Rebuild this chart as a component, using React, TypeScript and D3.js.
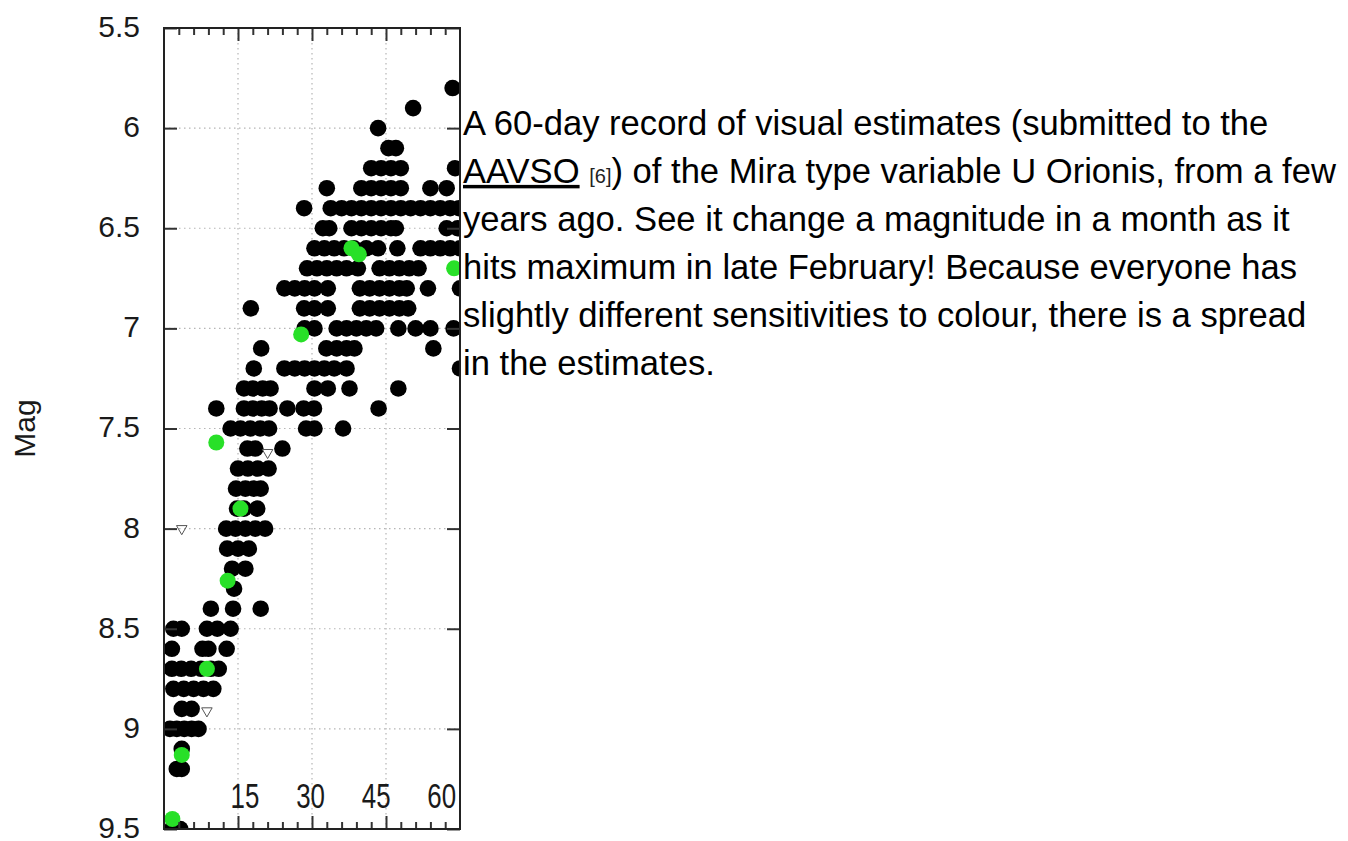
import * as d3 from 'd3';
import { useEffect, useRef } from 'react';

// axis ticks
const magTicks = [5.5, 6, 6.5, 7, 7.5, 8, 8.5, 9, 9.5];
const dayMajorTicks = [15, 30, 45];
const dayMinorTicks = [3, 6, 9, 12, 18, 21, 24, 27, 33, 36, 39, 42, 48, 51, 54, 57];
const dayLabels = [15, 30, 45, 60];

// visual estimates, grouped by magnitude: [mag, days]
const blackRows: [number, number[]][] = [
  [5.8, [58.5]],
  [5.9, [50.5]],
  [6.0, [43.4]],
  [6.1, [45.5, 47]],
  [6.2, [42, 44, 46, 48, 59]],
  [6.3, [33, 40, 42, 44, 46, 48, 54, 57.3]],
  [6.4, [28.4, 33.8, 36, 38, 40, 42, 44, 46, 48, 50, 52, 54, 56, 58, 59.8]],
  [6.5, [32.2, 33.5, 38, 40, 42, 44, 46, 47, 57.3, 59.5]],
  [6.6, [30.5, 32.5, 34.5, 36.5, 38.5, 41, 43.4, 47.3, 52, 54, 56, 58, 60]],
  [6.7, [29, 31, 33, 35, 37, 39.3, 43.7, 45.7, 47.7, 49.7, 51.6]],
  [6.8, [24.4, 26.5, 28.5, 30.5, 33.2, 39.7, 41.7, 43.7, 45.7, 47.7, 49.2, 53.5, 60]],
  [6.9, [17.6, 28.4, 30.5, 33.2, 39.7, 41.7, 43.7, 45.7, 47.7, 49.5]],
  [7.0, [28.5, 30.5, 35, 37, 39, 41, 43, 47.5, 51, 54, 58.7]],
  [7.1, [19.7, 32.9, 35, 37, 38.6, 54.6]],
  [7.2, [18.2, 24.4, 26.5, 28.5, 30.5, 32.5, 34.5, 37, 60]],
  [7.3, [16.2, 18, 20, 21.6, 30.5, 33.2, 37.6, 47.5]],
  [7.4, [10.6, 16.2, 18, 19.8, 21.4, 25, 28.3, 30.4, 43.5]],
  [7.5, [13.5, 15.5, 17.5, 19.5, 21.3, 28.8, 30.5, 36.3]],
  [7.6, [16.9, 18.5, 24]],
  [7.7, [15, 17, 19, 21.2]],
  [7.8, [14.6, 16.5, 18.2, 19.6]],
  [7.9, [14.8, 16.2, 18.9]],
  [8.0, [12.6, 14.5, 16.5, 18.5, 20.5]],
  [8.1, [12.8, 15, 17.2]],
  [8.2, [13.8, 16.5]],
  [8.3, [14.2]],
  [8.4, [9.5, 14, 19.6]],
  [8.5, [1.9, 3.6, 8.7, 10.8, 13.5]],
  [8.6, [1.6, 7.8, 9, 12.7]],
  [8.7, [1.6, 3.5, 5.5, 7.5, 9.5, 11.1]],
  [8.8, [1.9, 4, 6, 8, 10]],
  [8.9, [3.6, 5.6]],
  [9.0, [1.2, 2.6, 4.1, 5.6, 7]],
  [9.1, [3.6]],
  [9.2, [2.6, 3.6]],
  [9.5, [1.6, 3.3]],
];

// green (V-band) estimates: [day, mag]
const greenObs: [number, number][] = [
  [38, 6.6], [39.5, 6.63], [58.8, 6.7], [27.8, 7.03], [10.6, 7.57],
  [15.5, 7.9], [12.9, 8.26], [8.7, 8.7], [3.6, 9.13], [1.7, 9.45],
];

// "fainter than" estimates: [day, mag]
const fainterObs: [number, number][] = [[21, 7.62], [3.6, 8.0], [8.7, 8.91]];

type Part = { t: string; link?: boolean; small?: boolean };
const captionLines: Part[][] = [
  [{ t: 'A 60-day record of visual estimates (submitted to the' }],
  [
    { t: 'AAVSO', link: true },
    { t: ' ' },
    { t: '[6]', small: true },
    { t: ') of the Mira type variable U Orionis, from a few' },
  ],
  [{ t: 'years ago. See it change a magnitude in a month as it' }],
  [{ t: 'hits maximum in late February! Because everyone has' }],
  [{ t: 'slightly different sensitivities to colour, there is a spread' }],
  [{ t: 'in the estimates.' }],
];

const FONT = '"Liberation Sans", Arial, Helvetica, sans-serif';

function App() {
  const chartRef = useRef<SVGSVGElement>(null);

  useEffect(() => {
    const svg = d3.select(chartRef.current);
    svg.selectAll('*').remove();

    const x = d3.scaleLinear().domain([0, 60]).range([164, 460]);
    const y = d3.scaleLinear().domain([5.5, 9.5]).range([28, 829]);
    const [x0, x1] = x.range();
    const [y0, y1] = y.range();

    // dotted grid
    const grid = svg.append('g').attr('stroke', '#b5b5b5').attr('stroke-width', 1.2).attr('stroke-dasharray', '1.5,3.5');
    grid
      .selectAll('.hgrid')
      .data(magTicks.slice(1, -1))
      .join('line')
      .attr('x1', x0)
      .attr('x2', x1)
      .attr('y1', (d) => y(d))
      .attr('y2', (d) => y(d));
    grid
      .selectAll('.vgrid')
      .data(dayMajorTicks)
      .join('line')
      .attr('x1', (d) => x(d))
      .attr('x2', (d) => x(d))
      .attr('y1', y0)
      .attr('y2', y1);

    svg
      .append('clipPath')
      .attr('id', 'plot-clip')
      .append('rect')
      .attr('x', x0)
      .attr('y', y0 - 10)
      .attr('width', x1 - x0)
      .attr('height', y1 - y0 + 10);

    const marks = svg.append('g').attr('clip-path', 'url(#plot-clip)');
    const blackPts = blackRows.flatMap(([mag, days]) => days.map((d) => [d, mag] as [number, number]));

    marks
      .selectAll('.obs')
      .data(blackPts)
      .join('circle')
      .attr('cx', (d) => x(d[0]))
      .attr('cy', (d) => y(d[1]))
      .attr('r', 8.3)
      .attr('fill', '#000');

    const tri = d3.symbol(d3.symbolTriangle, 48);
    marks
      .selectAll('.fainter')
      .data(fainterObs)
      .join('path')
      .attr('d', tri)
      .attr('transform', (d) => `translate(${x(d[0])},${y(d[1])}) rotate(180)`)
      .attr('fill', 'none')
      .attr('stroke', '#555')
      .attr('stroke-width', 1);

    marks
      .selectAll('.green')
      .data(greenObs)
      .join('circle')
      .attr('cx', (d) => x(d[0]))
      .attr('cy', (d) => y(d[1]))
      .attr('r', 8)
      .attr('fill', '#28e028');

    const styleAxis = (g: d3.Selection<SVGGElement, unknown, null, undefined>) => {
      g.select('.domain').remove();
      g.selectAll('.tick line').attr('stroke', '#333').attr('stroke-width', 2);
      g.selectAll('.tick text')
        .attr('fill', '#1a1a1a')
        .attr('dy', '0.28em')
        .style('font-family', FONT)
        .style('font-size', '30px');
    };

    // left and right magnitude axes
    svg
      .append('g')
      .attr('transform', `translate(${x0},0)`)
      .call(d3.axisLeft(y).tickValues(magTicks).tickSize(-13).tickPadding(24).tickFormat((d) => String(d)))
      .call(styleAxis);
    svg
      .append('g')
      .attr('transform', `translate(${x1},0)`)
      .call(d3.axisRight(y).tickValues(magTicks).tickSize(-13).tickFormat(() => ''))
      .call(styleAxis);

    // top and bottom day axes (major + minor)
    [
      { axis: d3.axisTop(x), pos: y0 },
      { axis: d3.axisBottom(x), pos: y1 },
    ].forEach(({ axis, pos }) => {
      svg
        .append('g')
        .attr('transform', `translate(0,${pos})`)
        .call(axis.tickValues(dayMajorTicks).tickSize(-13).tickFormat(() => ''))
        .call(styleAxis);
      svg
        .append('g')
        .attr('transform', `translate(0,${pos})`)
        .call(axis.tickValues(dayMinorTicks).tickSize(-7).tickFormat(() => ''))
        .call(styleAxis);
    });

    svg
      .append('rect')
      .attr('x', x0)
      .attr('y', y0)
      .attr('width', x1 - x0)
      .attr('height', y1 - y0)
      .attr('fill', 'none')
      .attr('stroke', '#222')
      .attr('stroke-width', 2);

    // day labels sit inside the frame, slightly compressed
    const labelX = d3.scaleLinear().domain([15, 60]).range([x(16.4), x(56.3)]);
    svg
      .append('g')
      .selectAll('g')
      .data(dayLabels)
      .join('g')
      .attr('transform', (d) => `translate(${labelX(d)},${y1 - 21}) scale(0.74,1)`)
      .append('text')
      .attr('text-anchor', 'middle')
      .attr('fill', '#1a1a1a')
      .style('font-family', FONT)
      .style('font-size', '35px')
      .text((d) => d);

    svg
      .append('text')
      .attr('transform', `translate(35,${(y0 + y1) / 2}) rotate(-90)`)
      .attr('text-anchor', 'middle')
      .attr('fill', '#1a1a1a')
      .style('font-family', FONT)
      .style('font-size', '30px')
      .text('Mag');

    // caption to the right
    const cap = svg
      .append('text')
      .attr('fill', '#000')
      .style('font-family', FONT)
      .style('font-size', '34.6px');
    captionLines.forEach((parts, i) => {
      parts.forEach((p, j) => {
        const ts = cap.append('tspan').text(p.t);
        if (j === 0) ts.attr('x', 463).attr('y', 135 + i * 47.9);
        if (p.link) ts.attr('text-decoration', 'underline');
        if (p.small) ts.style('font-size', '20px').attr('fill', '#222');
      });
    });
  }, []);

  return (
    <svg
      ref={chartRef}
      width={1348}
      height={841}
      style={{ position: 'absolute', left: 0, top: 0, background: '#fff' }}
    />
  );
}

export default App;
